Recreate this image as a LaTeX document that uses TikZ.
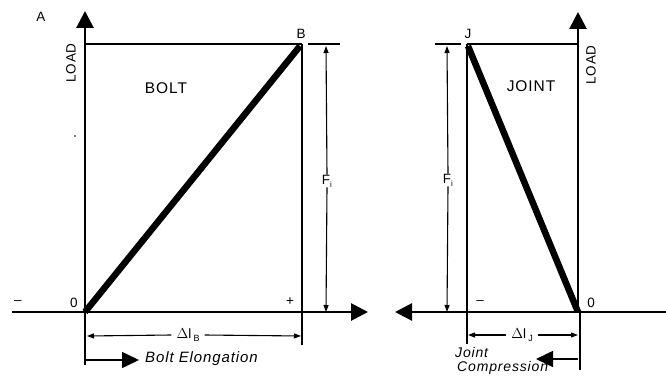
\documentclass[tikz,border=0pt]{standalone}
\usepackage{fontspec}
\setmainfont{Liberation Sans}
\newfontfamily\spaced[LetterSpace=6]{Liberation Sans}
\usetikzlibrary{arrows.meta}
\begin{document}
\begin{tikzpicture}[x=1pt,y=-1pt,
  axis/.style={line width=2.8pt},
  axtip/.style={-{Triangle[length=17pt,width=17pt]}},
  thinline/.style={line width=1.3pt},
  extline/.style={line width=1.8pt},
  dimhalf/.style={line width=1.1pt,-{Triangle[length=7pt,width=5pt]}},
  loadline/.style={line width=6.5pt},
  bigtip/.style={line width=1.6pt,-{Triangle[length=17pt,width=16pt]}},
  lbl/.style={font=\fontsize{13.5}{15}\selectfont, inner sep=0pt},
  title/.style={font=\spaced\fontsize{15.5}{17}\selectfont, inner sep=0pt},
  ylab/.style={font=\spaced\fontsize{13.5}{15}\selectfont, inner sep=0pt, rotate=90},
  note/.style={font=\spaced\itshape\fontsize{15}{17}\selectfont, inner sep=0pt},
  jnote/.style={font=\spaced\itshape\fontsize{14}{16}\selectfont, inner sep=0pt}]
\useasboundingbox (0,0) rectangle (666,377);

% ---------- BOLT (left) ----------
\coordinate (O1) at (85,312);
\coordinate (Y1) at (85,11);
\coordinate (X1s) at (12,312);
\coordinate (X1e) at (368,312);
\coordinate (B) at (302,44);
\coordinate (Bbot) at (302,345);
\coordinate (O1bot) at (85,365);
\coordinate (Bext1) at (308,44);
\coordinate (Bext2) at (340,44);

\draw[axis,axtip] (O1) -- (Y1);
\draw[axis,axtip] (X1s) -- (X1e);
\draw[thinline] (O1 |- B) -- (B);
\draw[thinline] (B) -- (Bbot);
\draw[thinline] (Bext1) -- (Bext2);
\draw[extline] (O1) -- (O1bot);
\draw[loadline] (O1) -- (300,46);

\node[lbl] (lA) at (41,17) {A};
\node[lbl] (lB) at (301,34) {B};
\node[ylab] (load1) at (71,63) {LOAD};
\node[title] (bolt) at (166,88) {BOLT};
\fill (75,136) circle (0.8pt);

\node[lbl] (Fi1) at (327,181) {F\raisebox{-3pt}{\fontsize{8}{9}\selectfont i}};
\draw[dimhalf] (Fi1.north) -- (326,46);
\draw[dimhalf] (Fi1.south) -- (326,312);

\node[lbl] (m1) at (18,303) {\textendash};
\node[lbl] (z1) at (74,303) {0};
\node[lbl] (p1) at (290,302) {+};

\node[lbl,fill=white,inner xsep=5pt] (dlB) at (188,335) {$\Delta$l\,\raisebox{-3pt}{\fontsize{9}{10}\selectfont B}};
\draw[dimhalf] (dlB.west) -- (87,336);
\draw[dimhalf] (dlB.east) -- (301,336);

\coordinate (be1) at (85,360);
\coordinate (be2) at (139,360);
\draw[bigtip] (be1) -- (be2);
\node[note,anchor=west] (belong) at (145,359) {Bolt Elongation};

% ---------- JOINT (right) ----------
\coordinate (O2) at (578,312);
\coordinate (Y2) at (578,12);
\coordinate (X2s) at (666,312);
\coordinate (X2e) at (395,312);
\coordinate (J) at (467,44);
\coordinate (Jbot) at (467,344);
\coordinate (O2bot) at (580,370);
\coordinate (Jext1) at (435,44);
\coordinate (Jext2) at (461,44);

\draw[axis,axtip] (O2) -- (Y2);
\draw[axis,axtip] (X2s) -- (X2e);
\draw[thinline] (J) -- (O2 |- J);
\draw[thinline] (J) -- (Jbot);
\draw[thinline] (Jext1) -- (Jext2);
\draw[line width=2.4pt] (580,312) -- (O2bot);
\draw[loadline] (468,46) -- (O2);

\node[lbl] (lJ) at (468,34) {J};
\node[ylab] (load2) at (591,65) {LOAD};
\node[title] (joint) at (531,86) {JOINT};

\node[lbl] (Fi2) at (448,180) {F\raisebox{-3pt}{\fontsize{8}{9}\selectfont i}};
\draw[dimhalf] (Fi2.north) -- (447,46);
\draw[dimhalf] (Fi2.south) -- (447,312);

\node[lbl] (m2) at (480,303) {\textendash};
\node[lbl] (z2) at (591,303) {0};

\node[lbl,fill=white,inner xsep=5pt] (dlJ) at (522,335) {$\Delta$l\,\raisebox{-3pt}{\fontsize{9}{10}\selectfont J}};
\draw[dimhalf] (dlJ.west) -- (468,335);
\draw[dimhalf] (dlJ.east) -- (578,335);

\coordinate (jc1) at (578,359);
\coordinate (jc2) at (536,359);
\draw[bigtip] (jc1) -- (jc2);
\node[jnote,anchor=west] (jointtxt) at (455,352) {Joint};
\node[jnote,anchor=west] (comptxt) at (457,368) {Compression};
\end{tikzpicture}
\end{document}
